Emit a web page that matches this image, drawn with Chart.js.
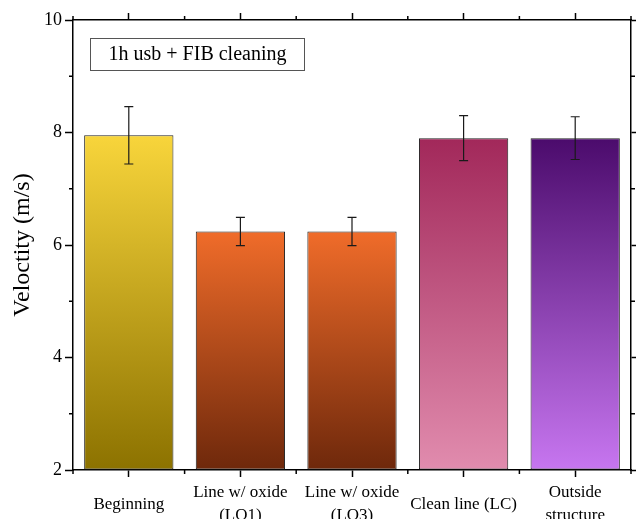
<!DOCTYPE html>
<html>
<head>
<meta charset="utf-8">
<script src="https://cdn.jsdelivr.net/npm/chart.js@4"></script>
<style>
  html, body { margin: 0; padding: 0; background: #fff; overflow: hidden; }
</style>
</head>
<body>
<canvas id="grafico" width="636" height="530"></canvas>
<script>
const categorias = [
    "Beginning",
    ["Line w/ oxide", "(LO1)"],
    ["Line w/ oxide", "(LO3)"],
    "Clean line (LC)",
    ["Outside", "structure"]
];
const velocidade = [7.95, 6.24, 6.24, 7.90, 7.90];
const erro = [0.51, 0.25, 0.25, 0.40, 0.38];
const ticksY = [2, 4, 6, 8, 10];
const minorY = [3, 5, 7, 9];
const legenda = "1h usb + FIB cleaning";

// cores topo / base de cada barra
const coresTopo = ["#f8d53b", "#f06c2a", "#f06c2a", "#a2285a", "#4b0b6c"];
const coresBase = ["#8c7200", "#6e280b", "#6e280b", "#e18cae", "#c776f0"];

const fonte = "'Liberation Serif', 'Times New Roman', serif";

function gradiente(ctx) {
    const chart = ctx.chart;
    const y = chart.scales.y;
    if (!chart.chartArea || !y) return coresTopo[ctx.dataIndex];
    const i = ctx.dataIndex;
    const g = chart.ctx.createLinearGradient(0, y.getPixelForValue(velocidade[i]), 0, y.getPixelForValue(ticksY[0]));
    g.addColorStop(0, coresTopo[i]);
    g.addColorStop(1, coresBase[i]);
    return g;
}

const extras = {
    id: "extras",
    afterDatasetsDraw(chart) {
        const c = chart.ctx;
        const x = chart.scales.x;
        const y = chart.scales.y;
        const area = chart.chartArea;

        // barras de erro
        c.save();
        c.strokeStyle = "#1a1a1a";
        c.lineWidth = 1.2;
        velocidade.forEach((v, i) => {
            const px = x.getPixelForValue(i);
            const top = y.getPixelForValue(v + erro[i]);
            const bot = y.getPixelForValue(v - erro[i]);
            c.beginPath();
            c.moveTo(px, top); c.lineTo(px, bot);
            c.moveTo(px - 4.5, top); c.lineTo(px + 4.5, top);
            c.moveTo(px - 4.5, bot); c.lineTo(px + 4.5, bot);
            c.stroke();
        });

        // ticks menores
        c.strokeStyle = "#000";
        c.lineWidth = 1.5;
        c.beginPath();
        minorY.forEach(v => {
            const py = y.getPixelForValue(v);
            c.moveTo(area.left - 4, py); c.lineTo(area.left, py);
            c.moveTo(area.right, py); c.lineTo(area.right + 4, py);
        });
        for (let i = 0; i <= categorias.length; i++) {
            const px = x.getPixelForValue(i - 0.5);
            c.moveTo(px, area.bottom); c.lineTo(px, area.bottom + 4);
            c.moveTo(px, area.top - 4); c.lineTo(px, area.top);
        }
        c.stroke();

        // caixa da legenda
        c.strokeStyle = "#555";
        c.lineWidth = 1;
        c.fillStyle = "#fff";
        c.fillRect(90.5, 38.5, 214, 32);
        c.strokeRect(90.5, 38.5, 214, 32);
        c.fillStyle = "#000";
        c.font = "20px " + fonte;
        c.textAlign = "center";
        c.textBaseline = "middle";
        c.fillText(legenda, 197.5, 55);
        c.restore();
    }
};

new Chart(document.getElementById("grafico"), {
    type: "bar",

    data: {
        labels: categorias,
        datasets: [{
            data: velocidade,
            base: ticksY[0],
            backgroundColor: gradiente,
            borderColor: "#222",
            borderWidth: 1,
            borderSkipped: false,
            barPercentage: 0.8,
            categoryPercentage: 1
        }]
    },

    options: {
        responsive: false,
        animation: false,
        layout: {
            padding: 0
        },
        plugins: {
            legend: { display: false },
            tooltip: { enabled: false }
        },

        scales: {
            x: {
                position: "bottom",
                offset: true,
                afterFit(s) { s.height = 60; },
                grid: {
                    offset: false,
                    drawOnChartArea: false,
                    tickLength: 7,
                    tickColor: "#000",
                    tickWidth: 1.5
                },
                border: { color: "#000", width: 1.5 },
                ticks: {
                    color: "#000",
                    padding: 16,
                    crossAlign: "center",
                    maxRotation: 0,
                    autoSkip: false,
                    font: { family: fonte, size: 17, lineHeight: 1.3 }
                }
            },

            x2: {
                type: "category",
                position: "top",
                labels: categorias,
                offset: true,
                afterFit(s) { s.height = 20; },
                grid: {
                    offset: false,
                    drawOnChartArea: false,
                    tickLength: 7,
                    tickColor: "#000",
                    tickWidth: 1.5
                },
                border: { color: "#000", width: 1.5 },
                ticks: { display: false }
            },

            y: {
                position: "left",
                min: ticksY[0],
                max: ticksY[ticksY.length - 1],
                afterFit(s) { s.width = 73; },
                afterBuildTicks(s) { s.ticks = ticksY.map(v => ({ value: v })); },
                grid: {
                    drawOnChartArea: false,
                    tickLength: 8,
                    tickColor: "#000",
                    tickWidth: 1.5
                },
                border: { color: "#000", width: 1.5 },
                ticks: {
                    color: "#000",
                    padding: 3,
                    font: { family: fonte, size: 18 }
                },
                title: {
                    display: true,
                    text: "Veloctity (m/s)",
                    color: "#000",
                    padding: { top: 8, bottom: 0 },
                    font: { family: fonte, size: 24 }
                }
            },

            y2: {
                position: "right",
                min: ticksY[0],
                max: ticksY[ticksY.length - 1],
                afterFit(s) { s.width = 5; },
                afterBuildTicks(s) { s.ticks = ticksY.map(v => ({ value: v })); },
                grid: {
                    drawOnChartArea: false,
                    tickLength: 5,
                    tickColor: "#000",
                    tickWidth: 1.5
                },
                border: { color: "#000", width: 1.5 },
                ticks: { display: false }
            }
        }
    },

    plugins: [extras]
});
</script>
</body>
</html>
